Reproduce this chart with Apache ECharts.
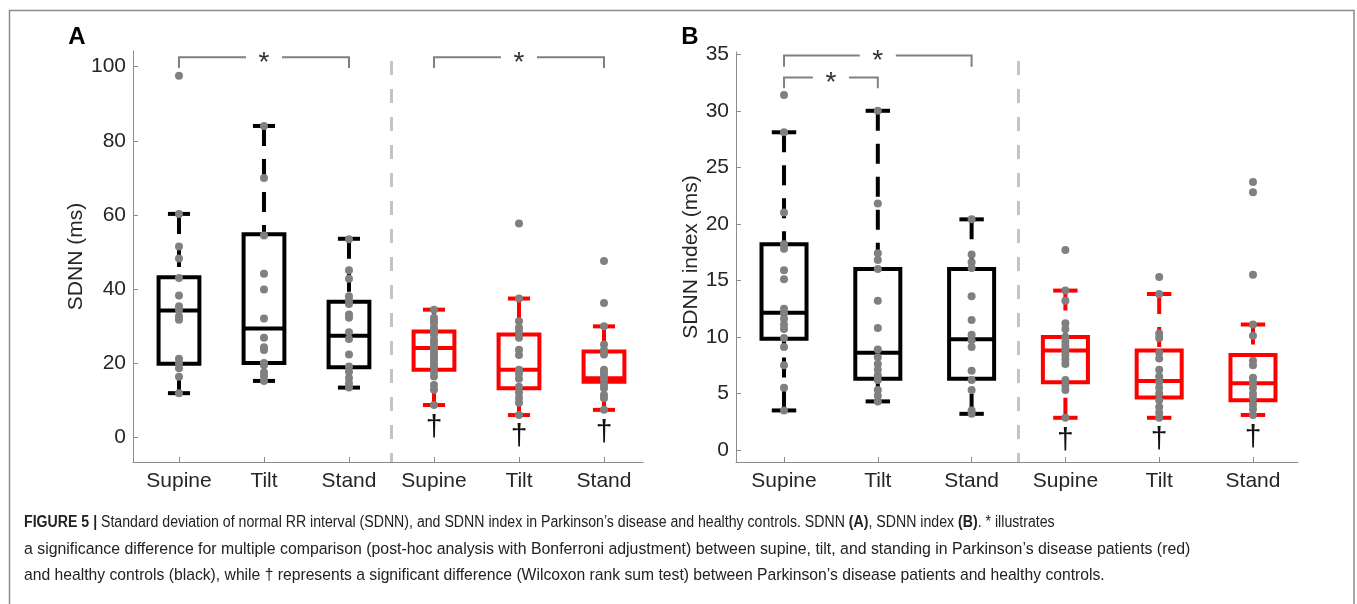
<!DOCTYPE html>
<html>
<head>
<meta charset="utf-8">
<script src="https://cdn.jsdelivr.net/npm/echarts@6/dist/echarts.min.js"></script>
<style>
html, body { margin: 0; padding: 0; background: #ffffff; }
#chart { width: 1357px; height: 604px; }
</style>
</head>
<body>
<div id="chart"></div>
<script>
// ---------------- DATA ----------------
const categories = ['Supine', 'Tilt', 'Stand', 'Supine', 'Tilt', 'Stand'];
const positions = [1, 2, 3, 4, 5, 6];

// Panel A - SDNN (ms): individual values, healthy controls (black boxes)
const sdnnHcSupine = [97.5, 60.3, 51.5, 48.3, 43.0, 38.3, 35.4, 34.5, 32.7, 31.8, 21.3, 20.0, 18.7, 16.4, 12.0];
const sdnnHcTilt = [84.0, 70.0, 54.5, 44.2, 39.9, 32.1, 26.9, 24.4, 23.6, 20.1, 19.5, 17.6, 16.6, 15.3];
const sdnnHcStand = [53.5, 45.1, 42.8, 38.1, 37.0, 36.0, 33.2, 32.3, 28.4, 26.6, 22.4, 19.2, 17.8, 16.1, 14.7, 13.5];
// Parkinson's disease patients (red boxes)
const sdnnPdSupine = [34.5, 32.3, 31.5, 30.9, 29.6, 28.5, 27.8, 26.4, 25.5, 24.6, 23.8, 22.8, 22.0, 21.0, 20.0, 19.2, 17.8, 16.5, 14.2, 12.9, 8.8];
const sdnnPdTilt = [57.7, 37.5, 31.4, 29.6, 28.5, 26.9, 23.7, 22.3, 18.3, 17.3, 15.9, 13.7, 12.2, 10.7, 9.4, 6.1];
const sdnnPdStand = [47.6, 36.3, 30.0, 25.1, 23.6, 22.4, 18.3, 17.4, 16.5, 15.6, 14.2, 13.3, 11.5, 10.6, 7.5];
// box statistics per group: [lower whisker, Q1, median, Q3, upper whisker]
const sdnnBoxStats = [
  [12.0, 19.9, 34.3, 43.2, 60.3],
  [15.3, 20.1, 29.4, 54.8, 84.0],
  [13.5, 19.0, 27.5, 36.6, 53.6],
  [8.8, 18.3, 24.2, 28.6, 34.5],
  [6.1, 13.3, 18.3, 27.8, 37.5],
  [7.5, 15.1, 16.0, 23.2, 30.0]
];

// Panel B - SDNN index (ms)
const sdnnIdxHcSupine = [31.4, 28.1, 21.0, 18.2, 17.8, 15.9, 15.1, 12.5, 12.1, 11.6, 11.1, 10.7, 9.9, 9.1, 7.5, 5.5, 3.5];
const sdnnIdxHcTilt = [30.0, 21.8, 17.4, 16.8, 16.0, 13.2, 10.8, 8.9, 8.2, 7.6, 7.1, 6.6, 6.2, 5.3, 4.8, 4.3];
const sdnnIdxHcStand = [20.4, 17.3, 16.6, 16.1, 13.6, 11.5, 10.2, 9.7, 9.1, 7.0, 6.2, 5.3, 3.5, 3.2];
const sdnnIdxPdSupine = [17.7, 14.1, 13.2, 11.2, 10.7, 10.0, 9.6, 9.2, 8.8, 8.4, 8.0, 7.6, 6.2, 5.7, 5.3, 2.85];
const sdnnIdxPdTilt = [15.3, 13.8, 10.3, 9.9, 8.6, 8.1, 7.1, 6.5, 6.0, 5.5, 5.0, 4.4, 3.8, 3.3, 2.85];
const sdnnIdxPdStand = [23.7, 22.8, 15.5, 11.1, 10.1, 7.9, 7.5, 6.4, 6.0, 5.5, 5.0, 4.6, 4.0, 3.6, 3.1];
const sdnnIdxBoxStats = [
  [3.5, 9.85, 12.15, 18.2, 28.1],
  [4.3, 6.3, 8.6, 16.0, 30.0],
  [3.2, 6.3, 9.8, 16.0, 20.4],
  [2.85, 6.0, 8.8, 10.0, 14.1],
  [2.85, 4.65, 6.1, 8.8, 13.8],
  [3.1, 4.4, 5.9, 8.4, 11.1]
];

// significance brackets: [from position, to position, bracket level, leg end]
const sdnnBrackets = [[1, 3, 102.5, 99.6], [4, 6, 102.5, 99.6]];
const sdnnIdxBrackets = [[1, 3, 34.9, 33.9], [1, 2, 32.95, 32.0]];
// dagger marks (PD vs HC): [position, value]
const sdnnDaggers = [[4, 2.7], [5, 0.3], [6, 1.3]];
const sdnnIdxDaggers = [[4, 0.8], [5, 0.9], [6, 1.1]];
// group separator: [position, top value]
const sdnnSeparator = [[3.5, 101.5]];
const sdnnIdxSeparator = [[3.5, 34.4]];

// axis ticks
const yTicksA = [0, 20, 40, 60, 80, 100];
const yTicksB = [0, 5, 10, 15, 20, 25, 30, 35];
const yRangeA = [-6.55, 104.2];
const yRangeB = [-1.06, 35.2];
const xRangeA = [0.459, 6.459];
const xRangeB = [0.488, 6.48];

// ---------------- CHART ----------------
const FONT = '"Liberation Sans", Arial, Helvetica, sans-serif';
const TXT = '#262626';
const AXIS = '#8c8c8c';
const chart = echarts.init(document.getElementById('chart'), null, { renderer: 'canvas' });

function boxRenderer(color) {
  return function (params, api) {
    const x = api.value(0);
    const lo = api.coord([x, api.value(1)]);
    const q1 = api.coord([x, api.value(2)]);
    const md = api.coord([x, api.value(3)]);
    const q3 = api.coord([x, api.value(4)]);
    const hi = api.coord([x, api.value(5)]);
    const unit = api.size([1, 0])[0];
    const hb = unit * 0.24;
    const hc = unit * 0.13;
    const cx = q1[0];
    const solid = { stroke: color, lineWidth: 4, fill: null };
    const dashed = { stroke: color, lineWidth: 4, fill: null, lineDash: [20, 13] };
    return {
      type: 'group',
      children: [
        { type: 'line', shape: { x1: cx, y1: hi[1], x2: cx, y2: q3[1] }, style: dashed },
        { type: 'line', shape: { x1: cx, y1: lo[1], x2: cx, y2: q1[1] }, style: dashed },
        { type: 'line', shape: { x1: cx - hc, y1: hi[1], x2: cx + hc, y2: hi[1] }, style: solid },
        { type: 'line', shape: { x1: cx - hc, y1: lo[1], x2: cx + hc, y2: lo[1] }, style: solid },
        { type: 'rect', shape: { x: cx - hb, y: q3[1], width: 2 * hb, height: q1[1] - q3[1] }, style: solid },
        { type: 'line', shape: { x1: cx - hb, y1: md[1], x2: cx + hb, y2: md[1] }, style: solid }
      ]
    };
  };
}

function bracketRenderer(params, api) {
  const a = api.coord([api.value(0), api.value(3)]);
  const b = api.coord([api.value(0), api.value(2)]);
  const c = api.coord([api.value(1), api.value(2)]);
  const d = api.coord([api.value(1), api.value(3)]);
  const mid = (b[0] + c[0]) / 2;
  const gap = 18;
  const st = { stroke: '#808080', lineWidth: 2, fill: null };
  return {
    type: 'group',
    children: [
      { type: 'polyline', shape: { points: [a, b, [mid - gap, b[1]]] }, style: st },
      { type: 'polyline', shape: { points: [[mid + gap, c[1]], c, d] }, style: st },
      { type: 'text', x: mid, y: b[1] + 6, style: { text: '*', fontSize: 28, fontFamily: FONT, fill: '#333333', align: 'center', verticalAlign: 'middle' } }
    ]
  };
}

function daggerRenderer(params, api) {
  const p = api.coord([api.value(0), api.value(1)]);
  return { type: 'text', x: p[0], y: p[1], style: { text: '\u2020', fontSize: 30, fontFamily: FONT, fill: '#111111', align: 'center', verticalAlign: 'middle' } };
}

function separatorRenderer(yMin) {
  return function (params, api) {
    const t = api.coord([api.value(0), api.value(1)]);
    const b = api.coord([api.value(0), yMin]);
    return { type: 'line', shape: { x1: t[0], y1: t[1], x2: b[0], y2: b[1] }, style: { stroke: '#c4c4c4', lineWidth: 3, lineDash: [14, 14] } };
  };
}

function makeX(idx, range) {
  return {
    type: 'value', gridIndex: idx, min: range[0], max: range[1],
    axisLine: { show: true, onZero: false, lineStyle: { color: AXIS, width: 1 } },
    axisTick: { show: true, inside: true, length: 5, customValues: positions, lineStyle: { color: AXIS } },
    axisLabel: { customValues: positions, formatter: v => categories[Math.round(v) - 1], fontSize: 21, fontFamily: FONT, color: TXT, margin: 9 },
    splitLine: { show: false }
  };
}
function makeY(idx, range, ticks, name, gap) {
  return {
    type: 'value', gridIndex: idx, min: range[0], max: range[1],
    name: name, nameLocation: 'middle', nameGap: gap,
    nameTextStyle: { fontSize: 21, fontFamily: FONT, color: TXT },
    axisLine: { show: true, onZero: false, lineStyle: { color: AXIS, width: 1 } },
    axisTick: { show: true, inside: true, length: 5, customValues: ticks, lineStyle: { color: AXIS } },
    axisLabel: { customValues: ticks, fontSize: 21, fontFamily: FONT, color: TXT, margin: 7 },
    splitLine: { show: false }
  };
}

const ptsA = [sdnnHcSupine, sdnnHcTilt, sdnnHcStand, sdnnPdSupine, sdnnPdTilt, sdnnPdStand];
const ptsB = [sdnnIdxHcSupine, sdnnIdxHcTilt, sdnnIdxHcStand, sdnnIdxPdSupine, sdnnIdxPdTilt, sdnnIdxPdStand];
const scatterData = pts => pts.flatMap((vals, i) => vals.map(v => [positions[i], v]));
const boxData = (stats, from, to) => stats.slice(from, to).map((s, i) => [positions[from + i]].concat(s));

function panelSeries(idx, stats, pts, brackets, daggers, sep, yMin) {
  return [
    { type: 'custom', xAxisIndex: idx, yAxisIndex: idx, renderItem: separatorRenderer(yMin), data: sep, z: 1, silent: true },
    { type: 'custom', xAxisIndex: idx, yAxisIndex: idx, renderItem: boxRenderer('#000000'), data: boxData(stats, 0, 3), z: 2, silent: true },
    { type: 'custom', xAxisIndex: idx, yAxisIndex: idx, renderItem: boxRenderer('#ff0000'), data: boxData(stats, 3, 6), z: 2, silent: true },
    { type: 'scatter', xAxisIndex: idx, yAxisIndex: idx, data: scatterData(pts), symbol: 'circle', symbolSize: 8, itemStyle: { color: '#808080', opacity: 1 }, z: 3, silent: true },
    { type: 'custom', xAxisIndex: idx, yAxisIndex: idx, renderItem: bracketRenderer, data: brackets, z: 4, silent: true },
    { type: 'custom', xAxisIndex: idx, yAxisIndex: idx, renderItem: daggerRenderer, data: daggers, z: 4, silent: true }
  ];
}

const cap1 = '15.8px ' + FONT;
const cap2 = '15.85px ' + FONT;
const cap3 = '15.7px ' + FONT;
const option = {
  animation: false,
  backgroundColor: '#ffffff',
  grid: [
    { left: 133, top: 51, width: 510, height: 411 },
    { left: 736, top: 52, width: 562, height: 410 }
  ],
  xAxis: [makeX(0, xRangeA), makeX(1, xRangeB)],
  yAxis: [makeY(0, yRangeA, yTicksA, 'SDNN (ms)', 46), makeY(1, yRangeB, yTicksB, 'SDNN index (ms)', 34)],
  series: [].concat(
    panelSeries(0, sdnnBoxStats, ptsA, sdnnBrackets, sdnnDaggers, sdnnSeparator, yRangeA[0]),
    panelSeries(1, sdnnIdxBoxStats, ptsB, sdnnIdxBrackets, sdnnIdxDaggers, sdnnIdxSeparator, yRangeB[0])
  ),
  graphic: [
    { type: 'rect', shape: { x: 9.5, y: 10.5, width: 1344.5, height: 700 }, style: { stroke: '#8a8a8a', lineWidth: 1.5, fill: null }, silent: true },
    { type: 'text', x: 77, y: 37, style: { text: 'A', font: 'bold 24px ' + FONT, fill: '#000', align: 'center', verticalAlign: 'middle' } },
    { type: 'text', x: 690, y: 37, style: { text: 'B', font: 'bold 24px ' + FONT, fill: '#000', align: 'center', verticalAlign: 'middle' } },
    { type: 'text', x: 24, y: 523, scaleX: 0.895, style: {
        text: '{b|FIGURE 5 |} Standard deviation of normal RR interval (SDNN), and SDNN index in Parkinson\u2019s disease and healthy controls. SDNN {b|(A)}, SDNN index {b|(B)}. * illustrates',
        font: cap1, fill: '#222', align: 'left', verticalAlign: 'middle',
        rich: { b: { font: 'bold 15.8px ' + FONT, fill: '#222' } } } },
    { type: 'text', x: 24, y: 549.5, style: {
        text: 'a significance difference for multiple comparison (post-hoc analysis with Bonferroni adjustment) between supine, tilt, and standing in Parkinson\u2019s disease patients (red)',
        font: cap2, fill: '#222', align: 'left', verticalAlign: 'middle' } },
    { type: 'text', x: 24, y: 575.5, style: {
        text: 'and healthy controls (black), while \u2020 represents a significant difference (Wilcoxon rank sum test) between Parkinson\u2019s disease patients and healthy controls.',
        font: cap3, fill: '#222', align: 'left', verticalAlign: 'middle' } }
  ]
};
chart.setOption(option);
</script>
</body>
</html>
